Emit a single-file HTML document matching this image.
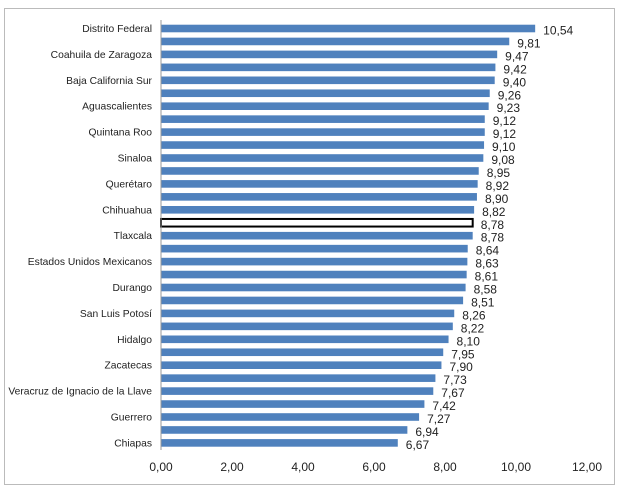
<!DOCTYPE html>
<html><head><meta charset="utf-8"><style>
body{margin:0;background:#fff;}
svg text{font-family:"Liberation Sans",sans-serif;}
</style></head><body>
<svg id="chart" width="624" height="492" xmlns="http://www.w3.org/2000/svg">
<rect x="4.5" y="8.5" width="610" height="476" fill="#fff" stroke="#bbb" stroke-width="1"/>
<g id="bars"></g>
</svg>
<script>
const categories=["Distrito Federal","","Coahuila de Zaragoza","","Baja California Sur","","Aguascalientes","","Quintana Roo","","Sinaloa","","Querétaro","","Chihuahua","","Tlaxcala","","Estados Unidos Mexicanos","","Durango","","San Luis Potosí","","Hidalgo","","Zacatecas","","Veracruz de Ignacio de la Llave","","Guerrero","","Chiapas"];
const values=[10.54,9.81,9.47,9.42,9.40,9.26,9.23,9.12,9.12,9.10,9.08,8.95,8.92,8.90,8.82,8.78,8.78,8.64,8.63,8.61,8.58,8.51,8.26,8.22,8.10,7.95,7.90,7.73,7.67,7.42,7.27,6.94,6.67];
const highlight=[15];
const ticks=[0,2,4,6,8,10,12];
const ns="http://www.w3.org/2000/svg";
const g=document.getElementById('bars');
const x=v=>161+v*35.5;
const y=i=>28.5+i*12.95;
function mk(t,a){const e=document.createElementNS(ns,t);for(const k in a)e.setAttribute(k,a[k]);g.appendChild(e);return e;}
const fmt=v=>v.toFixed(2).replace('.',',');
values.forEach((v,i)=>{
  const hl=highlight.includes(i);
  const r=mk('rect',{x:x(0),y:y(i)-3.8,width:x(v)-x(0),height:7.6,fill:hl?'#fff':'#4f81bd',stroke:hl?'#000':'none','stroke-width':hl?2:0});
  
  
  const t=mk('text',{x:x(v)+8,y:y(i)+6,'font-size':12,fill:'#222'});
  t.textContent=fmt(v);
  
  
  if(categories[i]){
    const c=mk('text',{x:152,y:y(i)+3.5,'font-size':10.3,'text-anchor':'end',fill:'#222'});
    c.textContent=categories[i];
    
    
  }
});
const ax=mk('line',{x1:x(0),x2:x(0),y1:20,y2:450,stroke:'#999'});


ticks.forEach((t,i)=>{
  const e=mk('text',{x:x(t),y:471,'font-size':12,'text-anchor':'middle',fill:'#222'});
  e.textContent=fmt(t);
  
  
});
</script>
</body></html>
